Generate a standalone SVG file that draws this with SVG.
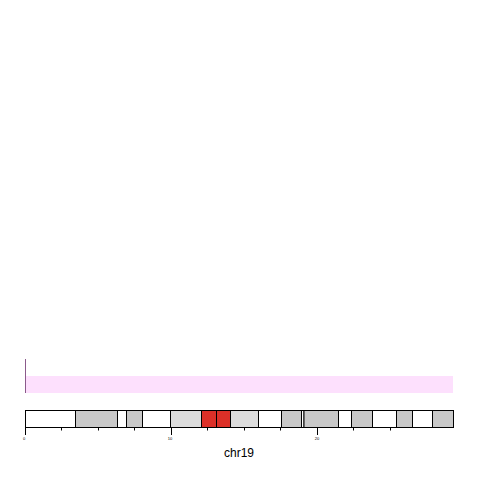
<svg xmlns="http://www.w3.org/2000/svg" width="480" height="480" viewBox="0 0 480 480">
<style>
.b{stroke:#000;stroke-width:1}
.w{fill:#fff}.g{fill:#c8c8c8}.l{fill:#dcdcdc}.r{fill:#dc3028}
.t{stroke:#000;stroke-width:1}
.tl{font-family:"Liberation Sans",Arial,sans-serif;font-size:4px;fill:#000}
</style>
<rect width="480" height="480" fill="#fff"/>
<g id="track">
<rect x="25.5" y="376" width="427.5" height="17" fill="#fde0fd"/>
<line x1="25.5" y1="359" x2="25.5" y2="393" stroke="#8b5a8b" stroke-width="1"/>
</g>
<g id="ideogram">
<rect class="b w" x="25.5" y="410.5" width="50" height="17"/>
<rect class="b g" x="75.5" y="410.5" width="42" height="17"/>
<rect class="b w" x="117.5" y="410.5" width="9" height="17"/>
<rect class="b g" x="126.5" y="410.5" width="16" height="17"/>
<rect class="b w" x="142.5" y="410.5" width="28" height="17"/>
<rect class="b l" x="170.5" y="410.5" width="31" height="17"/>
<rect class="b r" x="201.5" y="410.5" width="15" height="17"/>
<rect class="b r" x="216.5" y="410.5" width="14" height="17"/>
<rect class="b l" x="230.5" y="410.5" width="28" height="17"/>
<rect class="b w" x="258.5" y="410.5" width="23" height="17"/>
<rect class="b g" x="281.5" y="410.5" width="20" height="17"/>
<rect class="b w" x="301.5" y="410.5" width="2.5" height="17"/>
<rect class="b g" x="304" y="410.5" width="34.5" height="17"/>
<rect class="b w" x="338.5" y="410.5" width="13" height="17"/>
<rect class="b g" x="351.5" y="410.5" width="21" height="17"/>
<rect class="b w" x="372.5" y="410.5" width="24" height="17"/>
<rect class="b g" x="396.5" y="410.5" width="16" height="17"/>
<rect class="b w" x="412.5" y="410.5" width="20" height="17"/>
<rect class="b g" x="432.5" y="410.5" width="21" height="17"/>
</g>
<g id="axis">
<line class="t" x1="25.5" y1="427" x2="25.5" y2="435"/>
<line class="t" x1="171.5" y1="427" x2="171.5" y2="435"/>
<line class="t" x1="317.5" y1="427" x2="317.5" y2="435"/>
<line class="t" x1="61.5" y1="427" x2="61.5" y2="430.5"/>
<line class="t" x1="98.5" y1="427" x2="98.5" y2="430.5"/>
<line class="t" x1="134.5" y1="427" x2="134.5" y2="430.5"/>
<line class="t" x1="207.5" y1="427" x2="207.5" y2="430.5"/>
<line class="t" x1="244.5" y1="427" x2="244.5" y2="430.5"/>
<line class="t" x1="280.5" y1="427" x2="280.5" y2="430.5"/>
<line class="t" x1="353.5" y1="427" x2="353.5" y2="430.5"/>
<line class="t" x1="390.5" y1="427" x2="390.5" y2="430.5"/>
<text class="tl" x="24" y="439.5" text-anchor="middle">0</text>
<text class="tl" x="170" y="439.5" text-anchor="middle">10</text>
<text class="tl" x="317" y="439.5" text-anchor="middle">20</text>
</g>
<text x="239" y="457" text-anchor="middle" font-family="Liberation Sans,Arial,sans-serif" font-size="12" fill="#000">chr19</text>
</svg>
